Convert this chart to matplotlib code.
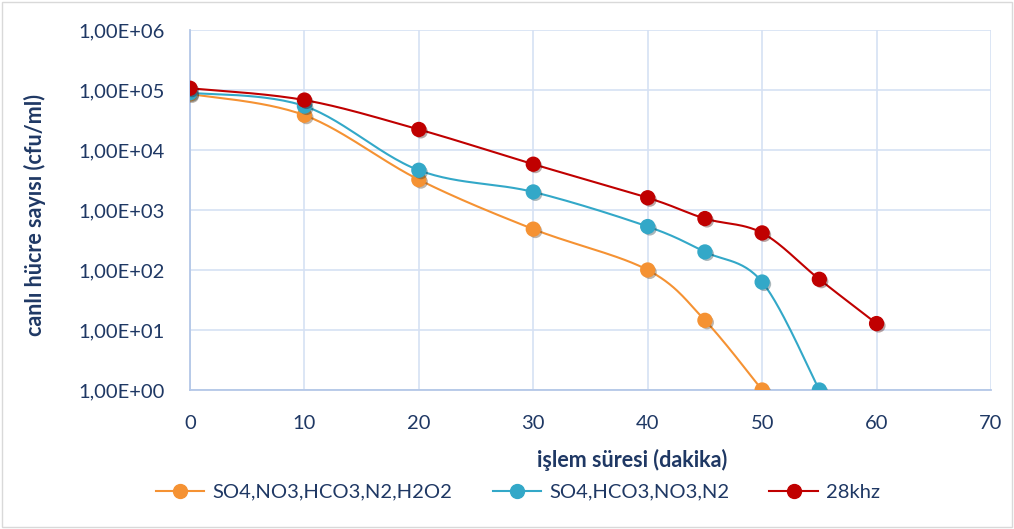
import numpy as np
import matplotlib
matplotlib.use("Agg")
import matplotlib.pyplot as plt
import matplotlib.patheffects as pe
from matplotlib.ticker import FixedLocator, FuncFormatter, NullLocator

# data
minutes_a = [0, 10, 20, 30, 40, 45, 50]
counts_a = [8.6e4, 3.8e4, 3.2e3, 480, 100, 14.5, 1]
minutes_b = [0, 10, 20, 30, 40, 45, 50, 55]
counts_b = [9.0e4, 5.4e4, 4.6e3, 2.0e3, 530, 200, 63, 1]
minutes_c = [0, 10, 20, 30, 40, 45, 50, 55, 60]
counts_c = [1.07e5, 6.8e4, 2.2e4, 5.8e3, 1.6e3, 720, 415, 70, 12.8]
labels = ['SO4,NO3,HCO3,N2,H2O2', 'SO4,HCO3,NO3,N2', '28khz']
colors = ['#F59233', '#33A8C8', '#C00000']
ytick_vals = [1, 10, 100, 1e3, 1e4, 1e5, 1e6]
xtick_vals = [0, 10, 20, 30, 40, 50, 60, 70]

TXT = '#1F3864'
GRID = '#D6E1F3'
AXLINE = '#B4C7E7'


def smooth(xs, ys, n=30):
    # excel-like bezier smoothing in (x, log y)
    x = np.asarray(xs, float)
    y = np.log10(np.asarray(ys, float))
    px, py = [], []
    for i in range(len(x) - 1):
        x0, y0 = (x[i - 1], y[i - 1]) if i > 0 else (x[i], y[i])
        x3, y3 = (x[i + 2], y[i + 2]) if i + 2 < len(x) else (x[i + 1], y[i + 1])
        c1x = x[i] + (x[i + 1] - x0) / 6
        c1y = y[i] + (y[i + 1] - y0) / 6
        c2x = x[i + 1] - (x3 - x[i]) / 6
        c2y = y[i + 1] - (y3 - y[i]) / 6
        t = np.linspace(0, 1, n)
        bx = (1 - t) ** 3 * x[i] + 3 * (1 - t) ** 2 * t * c1x + 3 * (1 - t) * t ** 2 * c2x + t ** 3 * x[i + 1]
        by = (1 - t) ** 3 * y[i] + 3 * (1 - t) ** 2 * t * c1y + 3 * (1 - t) * t ** 2 * c2y + t ** 3 * y[i + 1]
        px.extend(bx)
        py.extend(by)
    return np.array(px), 10 ** np.array(py)


plt.rcParams['font.family'] = ['Lato', 'DejaVu Sans']

fig = plt.figure(figsize=(10.14, 5.29), dpi=100)
ax = fig.add_axes([190 / 1014, 139 / 529, 801 / 1014, 360 / 529])
fig.patches.append(plt.Rectangle((0.002, 0.003), 0.996, 0.994, transform=fig.transFigure,
                                 fill=False, edgecolor='#D9D9D9', linewidth=1))

series = [(minutes_a, counts_a), (minutes_b, counts_b), (minutes_c, counts_c)]
handles = []
for (xs, ys), lab, col in zip(series, labels, colors):
    sx, sy = smooth(xs, ys)
    ax.plot(sx, sy, color=col, linewidth=1.5, zorder=3)
    ax.plot(xs, ys, linestyle='none', marker='o', markersize=10, color=col, zorder=4,
            path_effects=[pe.SimplePatchShadow(offset=(1.5, -1.5), alpha=0.35), pe.Normal()])
    h, = ax.plot([], [], color=col, linewidth=1.5, marker='o', markersize=10, label=lab)
    handles.append(h)

ax.set_yscale('log')
ax.set_ylim(1, 1e6)
ax.set_xlim(0, 70)
ax.yaxis.set_major_locator(FixedLocator(ytick_vals))
ax.yaxis.set_minor_locator(NullLocator())
ax.yaxis.set_major_formatter(FuncFormatter(lambda v, p: '1,00E+%02d' % round(np.log10(v))))
ax.set_xticks(xtick_vals)
ax.grid(True, color=GRID, linewidth=1.2, zorder=0)
ax.set_axisbelow(True)
for s in ['top', 'right']:
    ax.spines[s].set_visible(False)
for s in ['left', 'bottom']:
    ax.spines[s].set_color(AXLINE)
    ax.spines[s].set_linewidth(1.3)
ax.tick_params(length=0, labelsize=14.5, colors=TXT)
ax.tick_params(axis='y', pad=18)
ax.tick_params(axis='x', pad=18)

fig.text(35 / 1014, 1 - 215 / 529, 'canlı hücre sayısı (cfu/ml)', fontsize=15.5, fontweight='bold',
         color=TXT, ha='center', va='center', rotation=90)
fig.text(632 / 1014, 1 - 460 / 529, 'işlem süresi (dakika)', fontsize=15.5, fontweight='bold',
         color=TXT, ha='center', va='center')

fig.legend(handles=handles, loc='center', bbox_to_anchor=(518 / 1014, 1 - 492 / 529), ncol=3,
           frameon=False, fontsize=14.5, labelcolor=TXT, handlelength=2.4, columnspacing=2.0,
           handletextpad=0.4)

fig.savefig('out.png', dpi=100)
